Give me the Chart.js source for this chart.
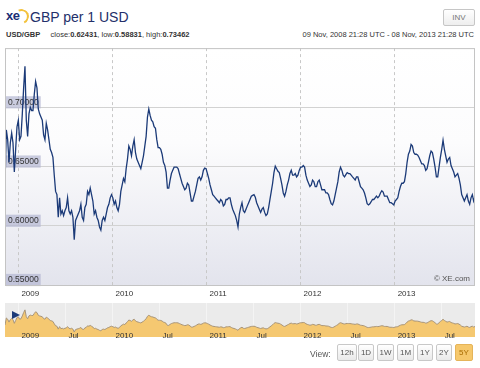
<!DOCTYPE html>
<html>
<head>
<meta charset="utf-8">
<script src="https://cdn.jsdelivr.net/npm/chart.js@4.4.0/dist/chart.umd.min.js"></script>
<style>
body { margin:0; width:480px; height:368px; background:#fff; font-family:Arial,"Liberation Sans",sans-serif; position:relative; overflow:hidden; }
.abs { position:absolute; }
#logo { left:6px; top:8px; font-size:13px; font-weight:bold; color:#1c2f74; letter-spacing:-0.5px; }
#ring { left:14px; top:9px; width:11px; height:11px; border:2px solid #f3c23c; border-left-color:transparent; border-bottom-color:transparent; border-radius:50%; transform:rotate(20deg); }
#title { left:30px; top:9px; font-size:14px; color:#23306a; }
#inv { left:443px; top:9px; width:30px; height:15px; border:1px solid #c6c6c6; border-radius:2px; font-size:8px; color:#777; text-align:center; line-height:15px; background:linear-gradient(#fff,#eee); }
#stats { left:6px; top:30px; font-size:7.5px; color:#333; white-space:nowrap; }
#range { right:6px; top:30px; font-size:7.5px; color:#333; white-space:nowrap; }
#main { left:0; top:40px; }
#nav { left:0; top:300px; }
#view { left:310px; top:349px; font-size:8.5px; color:#555; }
.btn { top:344px; height:17px; border:1px solid #c8c8c8; border-radius:2px; font-size:8px; color:#555; text-align:center; line-height:16px; background:linear-gradient(#fff,#e9e9e9); box-sizing:border-box; }
.btn.on { background:#f6c86c; color:#a86c00; border-color:#e5b45a; }
</style>
</head>
<body>
<div id="logo" class="abs">xe</div>
<div id="ring" class="abs"></div>
<div id="title" class="abs">GBP per 1 USD</div>
<div id="inv" class="abs">INV</div>
<div id="stats" class="abs"><b>USD/GBP</b>&nbsp;&nbsp;&nbsp;&nbsp; close:<b>0.62431</b>, low:<b>0.58831</b>, high:<b>0.73462</b></div>
<div id="range" class="abs">09 Nov, 2008 21:28 UTC - 08 Nov, 2013 21:28 UTC</div>
<canvas id="main" class="abs" width="480" height="262"></canvas>
<canvas id="nav" class="abs" width="480" height="40"></canvas>
<div id="view" class="abs">View:</div>
<div id="buttons"></div>
<script>
// --- DATA ---
const startDate = '2008-11-09T21:28:00Z';
const endDate = '2013-11-08T21:28:00Z';

const rates2009 = [
  0.6345,0.6809,0.6727,0.6536,0.6700,0.6782,0.6700,0.6454,0.6645,0.6836,0.6891,0.6727,0.6755,0.6945,0.7164,0.7346,
  0.6891,0.6755,0.6945,0.7000,0.6973,0.6973,0.7109,0.7218,0.7164,0.6986,0.6945,0.6918,0.6891,0.6768,0.6727,0.6864,
  0.6809,0.6727,0.6645,0.6618,0.6577,0.6427,
  0.6290,0.6263,0.6072,0.6236,0.6099,0.6127,0.6086,0.6127,0.6154,0.6236,
  0.6127,0.6099,0.6127,0.6072,0.5883,0.6045,0.6072,0.6099,0.6127,0.6181,
  0.6072,0.6045,0.6154,0.6181,0.6290,0.6263,0.6318,0.6263,0.6209,0.6099,
  0.6127,0.6072,0.6045,0.5990,0.5963,0.6045,0.6072,0.6045,0.6099,0.6154,
  0.6181,0.6236,0.6263,0.6236,0.6181,0.6209,0.6154,0.6127,0.6181,0.6290
];
const rates2010 = [
  0.6345,0.6400,0.6372,0.6482,0.6563,0.6673,0.6645,0.6591,0.6673,0.6727,
  0.6618,0.6563,0.6536,0.6509,0.6482,0.6536,0.6591,0.6673,0.6755,0.6918,
  0.6986,0.6932,0.6891,0.6877,0.6836,0.6823,0.6727,0.6659,0.6659,0.6645,
  0.6604,0.6536,0.6509,0.6454,0.6318,0.6318,0.6386,0.6441,0.6468,0.6495,
  0.6495,0.6495,0.6482,0.6441,0.6400,0.6359,0.6331,0.6304,0.6318,0.6359,
  0.6345,0.6277,0.6209,0.6209,0.6250,0.6290,0.6345,0.6400,0.6413,0.6386,
  0.6413,0.6468,0.6487,0.6482,0.6441,0.6400,0.6345,0.6304,0.6263,0.6250
];
const rates2011 = [
  0.6236,0.6222,0.6209,0.6195,0.6222,0.6209,0.6168,0.6181,0.6222,0.6222,
  0.6236,0.6236,0.6181,0.6140,0.6113,0.6086,0.6045,0.5990,0.6099,0.6154,
  0.6195,0.6127,0.6113,0.6140,0.6168,0.6195,0.6222,0.6250,0.6257,0.6263,
  0.6241,0.6195,0.6168,0.6140,0.6113,0.6140,0.6154,0.6113,0.6086,0.6099,
  0.6154,0.6222,0.6290,0.6359,0.6449,0.6503,0.6482,0.6460,0.6449,0.6400,
  0.6345,0.6277,0.6250,0.6290,0.6345,0.6386,0.6441,0.6468,0.6427,0.6427,
  0.6441,0.6413,0.6427,0.6468,0.6495,0.6495,0.6509,0.6495,0.6427,0.6386
];
const rates2012 = [
  0.6359,0.6331,0.6345,0.6386,0.6372,0.6331,0.6331,0.6372,0.6386,0.6345,
  0.6304,0.6304,0.6304,0.6277,0.6277,0.6263,0.6222,0.6186,0.6176,0.6209,
  0.6263,0.6318,0.6372,0.6454,0.6495,0.6468,0.6427,0.6413,0.6432,0.6449,
  0.6441,0.6441,0.6427,0.6413,0.6400,0.6386,0.6413,0.6413,0.6372,0.6331,
  0.6318,0.6304,0.6277,0.6236,0.6186,0.6176,0.6186,0.6203,0.6222,0.6222,
  0.6236,0.6250,0.6236,0.6250,0.6277,0.6296,0.6285,0.6250,0.6250,0.6250,
  0.6222,0.6195,0.6195,0.6186,0.6176,0.6209,0.6222,0.6236,0.6290,0.6331
];
const rates2013 = [
  0.6359,0.6359,0.6372,0.6441,0.6536,0.6604,0.6631,0.6686,0.6673,0.6618,
  0.6604,0.6604,0.6596,0.6577,0.6550,0.6522,0.6522,0.6509,0.6468,0.6482,
  0.6536,0.6591,0.6631,0.6618,0.6563,0.6495,0.6413,0.6413,0.6495,0.6577,
  0.6645,0.6722,0.6645,0.6591,0.6536,0.6563,0.6577,0.6509,0.6482,0.6454,
  0.6413,0.6427,0.6441,0.6400,0.6345,0.6263,0.6236,0.6209,0.6236,0.6263,
  0.6209,0.6181,0.6236,0.6263,0.6209,0.6243
];

const yearTicks = [2009, 2010, 2011, 2012, 2013];
const rateTicks = [0.55, 0.60, 0.65, 0.70];
const navTicks = [2009, 2009.5, 2010, 2010.5, 2011, 2011.5, 2012, 2012.5, 2013, 2013.5];
const navLabels = ['2009', 'Jul', '2010', 'Jul', '2011', 'Jul', '2012', 'Jul', '2013', 'Jul'];
const views = ['12h', '1D', '1W', '1M', '1Y', '2Y', '5Y'];

// --- HELPERS ---
function decYear(s) {
  const d = new Date(s), y = d.getUTCFullYear();
  const a = Date.UTC(y, 0, 1), b = Date.UTC(y + 1, 0, 1);
  return y + (d - a) / (b - a);
}
const x0 = decYear(startDate), x1 = decYear(endDate);
const rates = [].concat(rates2009, rates2010, rates2011, rates2012, rates2013);
const points = rates.map((v, i) => ({ x: x0 + i * (x1 - x0) / (rates.length - 1), y: v }));
const FONT = 'Arial, "Liberation Sans", sans-serif';

// buttons
const btnX = [337, 358, 377, 397, 417, 436, 455];
const btnW = [20, 16, 17, 17, 16, 16, 18];
document.getElementById('buttons').innerHTML = views.map((v, i) =>
  `<div class="abs btn${v === '5Y' ? ' on' : ''}" style="left:${btnX[i]}px;width:${btnW[i]}px">${v}</div>`).join('');

// --- MAIN CHART ---
const bgPlugin = {
  id: 'bg',
  beforeDraw(chart) {
    const { ctx, chartArea: a } = chart;
    const g = ctx.createLinearGradient(0, a.top, 0, a.bottom);
    g.addColorStop(0, '#ffffff');
    g.addColorStop(0.4, '#fcfcfd');
    g.addColorStop(1, '#e3e4ed');
    ctx.save();
    ctx.fillStyle = g;
    ctx.fillRect(a.left, a.top, a.right - a.left, a.bottom - a.top);
    ctx.restore();
  },
  afterDraw(chart) {
    const { ctx, chartArea: a } = chart;
    ctx.save();
    ctx.strokeStyle = '#c4c4c4';
    ctx.lineWidth = 1;
    ctx.strokeRect(a.left + 0.5, a.top + 0.5, a.right - a.left - 1, a.bottom - a.top);
    ctx.fillStyle = '#555';
    ctx.font = '8px ' + FONT;
    ctx.textAlign = 'right';
    ctx.fillText('\u00a9 XE.com', a.right - 5, a.bottom - 4);
    ctx.restore();
  }
};

new Chart(document.getElementById('main'), {
  type: 'line',
  data: { datasets: [{ data: points, borderColor: '#1b3a78', borderWidth: 1.3, pointRadius: 0, tension: 0, fill: false }] },
  options: {
    responsive: false, animation: false, events: [],
    layout: { padding: { left: 5, right: 5, top: 3, bottom: 0 } },
    plugins: { legend: { display: false }, tooltip: { enabled: false } },
    scales: {
      x: {
        type: 'linear', min: x0, max: x1,
        afterBuildTicks: s => { s.ticks = yearTicks.map(v => ({ value: v })); },
        afterFit: s => { s.height = 17; },
        grid: { color: '#c8c8c8', drawTicks: false },
        border: { display: false, dash: [3, 3] },
        ticks: { callback: v => String(v), align: 'start', labelOffset: 3, padding: 4, maxRotation: 0, autoSkip: false, color: '#333', font: { size: 8, family: FONT } }
      },
      y: {
        min: 0.55, max: 0.75,
        afterBuildTicks: s => { s.ticks = rateTicks.map(v => ({ value: v })); },
        afterFit: s => { s.width = 0; },
        grid: { color: '#d2d2d2', drawTicks: false },
        border: { display: false },
        ticks: {
          mirror: true, padding: 3, labelOffset: -5, color: '#333', font: { size: 8.5, family: FONT },
          showLabelBackdrop: true, backdropColor: 'rgba(180,182,210,0.7)', backdropPadding: { top: 1, bottom: 1, left: 2, right: 2 },
          callback: v => v.toFixed(5)
        }
      }
    }
  },
  plugins: [bgPlugin]
});

// --- NAVIGATOR ---
const navPlugin = {
  id: 'navdeco',
  beforeDraw(chart) {
    const { ctx, chartArea: a } = chart;
    ctx.save();
    ctx.fillStyle = '#ebebeb';
    ctx.fillRect(a.left, a.top, a.right - a.left, a.bottom - a.top);
    ctx.restore();
  },
  afterDraw(chart) {
    const { ctx, chartArea: a } = chart;
    ctx.save();
    ctx.fillStyle = '#1b3a78';
    ctx.beginPath();
    ctx.moveTo(a.left + 7, a.top + 8);
    ctx.lineTo(a.left + 15, a.top + 12);
    ctx.lineTo(a.left + 7, a.top + 16);
    ctx.closePath();
    ctx.fill();
    ctx.restore();
  }
};

new Chart(document.getElementById('nav'), {
  type: 'line',
  data: { datasets: [{ data: points, borderColor: '#a8957a', borderWidth: 1, pointRadius: 0, fill: 'start', backgroundColor: '#f5c871' }] },
  options: {
    responsive: false, animation: false, events: [],
    layout: { padding: { left: 5, right: 5, top: 3, bottom: 3 } },
    plugins: { legend: { display: false }, tooltip: { enabled: false } },
    scales: {
      x: {
        type: 'linear', min: x0, max: x1,
        afterBuildTicks: s => { s.ticks = navTicks.map(v => ({ value: v })); },
        afterFit: s => { s.height = 0; },
        grid: { color: 'rgba(255,255,255,0.45)', drawTicks: false },
        border: { display: false },
        ticks: { z: 1, mirror: true, callback: (v, i) => navLabels[i], align: 'start', labelOffset: 3, padding: -4, maxRotation: 0, autoSkip: false, color: '#333', font: { size: 8, family: FONT } }
      },
      y: { display: false, min: 0.555, max: 0.78 }
    }
  },
  plugins: [navPlugin]
});
</script>
</body>
</html>
